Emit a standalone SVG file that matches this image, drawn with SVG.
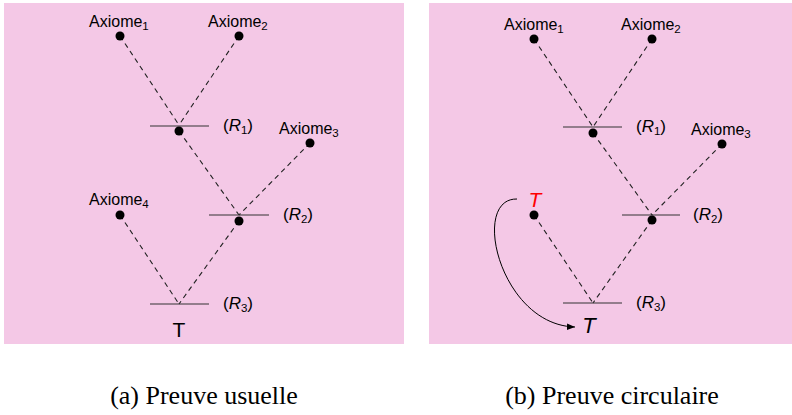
<svg xmlns="http://www.w3.org/2000/svg" width="792" height="415" viewBox="0 0 792 415">
<style>
.bg{fill:#F4C8E6}
.lbl{font-family:"Liberation Sans","DejaVu Sans",sans-serif;font-size:16px;fill:#000}
.rl{font-size:17px}
.sub{font-size:11.5px}
.it{font-style:italic}
.dash{stroke:#222;stroke-width:1.1;stroke-dasharray:5,4;fill:none}
.rule{stroke:#333;stroke-width:1.2}
.dot{fill:#000}
.cap{font-family:"Liberation Serif","Times New Roman",serif;font-size:26px;fill:#000;text-anchor:middle}
</style>
<defs>
<marker id="arr" viewBox="0 0 10 10" refX="10" refY="5" markerWidth="8" markerHeight="8" markerUnits="userSpaceOnUse" orient="auto">
<path d="M0,1 L10,5 L0,9 z" fill="#000"/>
</marker>
</defs>
<rect class="bg" x="4" y="3" width="400" height="341"/>
<rect class="bg" x="429" y="3" width="363" height="341"/>

<g id="connectors">
<line class="dash" x1="120" y1="36" x2="179" y2="125"/>
<line class="dash" x1="239" y1="36" x2="179" y2="125"/>
<line class="dash" x1="179" y1="131" x2="239" y2="215"/>
<line class="dash" x1="310" y1="143" x2="239" y2="215"/>
<line class="dash" x1="120" y1="215" x2="179" y2="304"/>
<line class="dash" x1="239" y1="221" x2="179" y2="304"/>

<line class="dash" x1="534" y1="39" x2="593" y2="127"/>
<line class="dash" x1="652" y1="39" x2="593" y2="127"/>
<line class="dash" x1="593" y1="133" x2="652" y2="215"/>
<line class="dash" x1="722" y1="144" x2="652" y2="215"/>
<line class="dash" x1="534" y1="215" x2="593" y2="303"/>
<line class="dash" x1="652" y1="220" x2="593" y2="303"/>

<path d="M517,199 C470,198 500,325 575,327" fill="none" stroke="#000" stroke-width="1" marker-end="url(#arr)"/>
</g>

<g id="a-axiome1"><circle class="dot" cx="120" cy="36" r="4.5"/><text class="lbl" x="89" y="27">Axiome<tspan class="sub" dy="3">1</tspan></text></g>
<g id="a-axiome2"><circle class="dot" cx="239" cy="36" r="4.5"/><text class="lbl" x="208" y="27">Axiome<tspan class="sub" dy="3">2</tspan></text></g>
<g id="a-r1"><line class="rule" x1="150" y1="126" x2="209" y2="126"/><circle class="dot" cx="179" cy="131" r="4.5"/><text class="lbl rl" x="223" y="131">(<tspan class="it">R</tspan><tspan class="sub" dy="3">1</tspan><tspan dy="-3">)</tspan></text></g>
<g id="a-axiome3"><circle class="dot" cx="310" cy="143" r="4.5"/><text class="lbl" x="279" y="134">Axiome<tspan class="sub" dy="3">3</tspan></text></g>
<g id="a-r2"><line class="rule" x1="209" y1="215" x2="269" y2="215"/><circle class="dot" cx="239" cy="221" r="4.5"/><text class="lbl rl" x="283" y="220">(<tspan class="it">R</tspan><tspan class="sub" dy="3">2</tspan><tspan dy="-3">)</tspan></text></g>
<g id="a-axiome4"><circle class="dot" cx="120" cy="215" r="4.5"/><text class="lbl" x="89" y="205">Axiome<tspan class="sub" dy="3">4</tspan></text></g>
<g id="a-r3"><line class="rule" x1="150" y1="304" x2="209" y2="304"/><text class="lbl rl" x="223" y="309">(<tspan class="it">R</tspan><tspan class="sub" dy="3">3</tspan><tspan dy="-3">)</tspan></text></g>
<g id="a-t"><text class="lbl" x="179" y="337" style="font-size:21px" text-anchor="middle">T</text></g>

<g id="b-axiome1"><circle class="dot" cx="534" cy="39" r="4.5"/><text class="lbl" x="504" y="30">Axiome<tspan class="sub" dy="3">1</tspan></text></g>
<g id="b-axiome2"><circle class="dot" cx="652" cy="39" r="4.5"/><text class="lbl" x="621" y="30">Axiome<tspan class="sub" dy="3">2</tspan></text></g>
<g id="b-r1"><line class="rule" x1="563" y1="127" x2="622" y2="127"/><circle class="dot" cx="593" cy="133" r="4.5"/><text class="lbl rl" x="636" y="132">(<tspan class="it">R</tspan><tspan class="sub" dy="3">1</tspan><tspan dy="-3">)</tspan></text></g>
<g id="b-axiome3"><circle class="dot" cx="722" cy="144" r="4.5"/><text class="lbl" x="691" y="135">Axiome<tspan class="sub" dy="3">3</tspan></text></g>
<g id="b-r2"><line class="rule" x1="622" y1="215" x2="680" y2="215"/><circle class="dot" cx="652" cy="220" r="4.5"/><text class="lbl rl" x="693" y="220">(<tspan class="it">R</tspan><tspan class="sub" dy="3">2</tspan><tspan dy="-3">)</tspan></text></g>
<g id="b-t-red"><circle class="dot" cx="534" cy="215" r="4.5"/><text class="lbl it" x="535" y="207" style="font-size:21px;fill:#FF0000" text-anchor="middle">T</text></g>
<g id="b-r3"><line class="rule" x1="563" y1="303" x2="622" y2="303"/><text class="lbl rl" x="636" y="308">(<tspan class="it">R</tspan><tspan class="sub" dy="3">3</tspan><tspan dy="-3">)</tspan></text></g>
<g id="b-t"><text class="lbl it" x="589" y="333" style="font-size:22px" text-anchor="middle">T</text></g>

<text class="cap" x="204" y="404">(a) Preuve usuelle</text>
<text class="cap" x="612" y="404">(b) Preuve circulaire</text>
</svg>
